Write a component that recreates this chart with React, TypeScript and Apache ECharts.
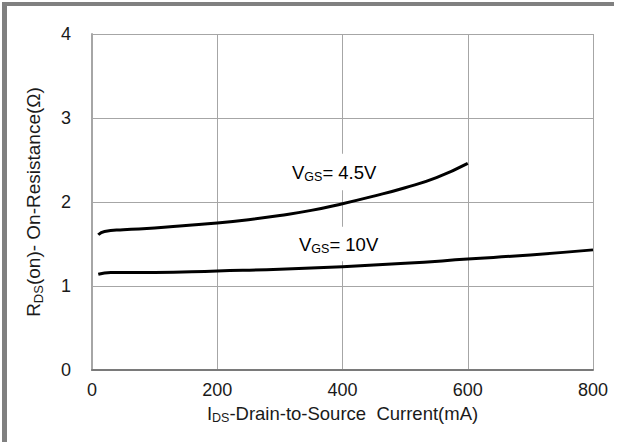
import React, { useEffect, useRef } from "react";
import * as echarts from "echarts";

const xTicks = [0, 200, 400, 600, 800];
const yTicks = [0, 1, 2, 3, 4];

const vgs45: [number, number][] = [
  [10, 1.61], [20, 1.65], [50, 1.67], [100, 1.69], [150, 1.72], [200, 1.75],
  [250, 1.79], [300, 1.84], [350, 1.90], [400, 1.98], [450, 2.07], [500, 2.17],
  [550, 2.29], [600, 2.46],
];
const vgs10: [number, number][] = [
  [10, 1.14], [30, 1.16], [100, 1.16], [200, 1.18], [300, 1.2], [400, 1.23],
  [500, 1.27], [600, 1.32], [700, 1.37], [800, 1.43],
];

const FONT = "'Liberation Sans', Arial, sans-serif";
const TXT = "#1a1a1a";

export default function App() {
  const ref = useRef<HTMLDivElement>(null);
  useEffect(() => {
    document.body.style.margin = "0";
    const chart = echarts.init(ref.current!, null, { renderer: "svg" });
    const sub = (n: number) => ({
      fontSize: n,
      fontFamily: FONT,
      color: TXT,
      verticalAlign: "bottom" as const,
      lineHeight: n,
    });
    const main = (n: number) => ({
      fontSize: n,
      fontFamily: FONT,
      color: TXT,
      lineHeight: n + 4,
    });
    chart.setOption({
      animation: false,
      backgroundColor: "#ffffff",
      grid: { left: 92, right: 28, top: 34, bottom: 72, containLabel: false },
      xAxis: {
        type: "value",
        min: xTicks[0],
        max: xTicks[xTicks.length - 1],
        interval: 200,
        name: "{m|I}{s|DS}{m|-Drain-to-Source  Current(mA)}",
        nameLocation: "middle",
        nameGap: 29,
        nameTextStyle: { rich: { m: main(18.5), s: sub(12.5) } },
        axisLine: { show: true, lineStyle: { color: "#7a7a7a", width: 2 } },
        axisTick: { show: false },
        axisLabel: { fontSize: 18, fontFamily: FONT, color: TXT, margin: 11 },
        splitLine: { show: true, lineStyle: { color: "#a6a6a6", width: 1 } },
      },
      yAxis: {
        type: "value",
        min: yTicks[0],
        max: yTicks[yTicks.length - 1],
        interval: 1,
        name: "{m|R}{s|DS}{m|(on)- On-Resistance(Ω)}",
        nameLocation: "middle",
        nameGap: 47,
        nameTextStyle: { rich: { m: main(19), s: sub(13) } },
        axisLine: { show: true, lineStyle: { color: "#a6a6a6", width: 2 } },
        axisTick: { show: false },
        axisLabel: { fontSize: 18, fontFamily: FONT, color: TXT, margin: 21 },
        splitLine: { show: true, lineStyle: { color: "#a6a6a6", width: 1 } },
      },
      series: [
        {
          name: "VGS=4.5V",
          type: "line",
          data: vgs45,
          smooth: 0.5,
          showSymbol: false,
          lineStyle: { color: "#000", width: 3 },
        },
        {
          name: "VGS=10V",
          type: "line",
          data: vgs10,
          smooth: 0.5,
          showSymbol: false,
          lineStyle: { color: "#000", width: 3 },
        },
      ],
      graphic: [
        { type: "rect", shape: { x: 2, y: 2, width: 612, height: 4 }, style: { fill: "#808080" }, z: 100 },
        { type: "rect", shape: { x: 2, y: 2, width: 5, height: 440 }, style: { fill: "#808080" }, z: 100 },
        {
          type: "text",
          x: 290,
          y: 172,
          z: 100,
          style: {
            text: "{m|V}{s|GS}{m|= 4.5V}",
            verticalAlign: "middle",
            backgroundColor: "#fff",
            padding: [7, 2, 7, 2],
            rich: { m: main(18.5), s: sub(12.5) },
          },
        },
        {
          type: "text",
          x: 297,
          y: 244,
          z: 100,
          style: {
            text: "{m|V}{s|GS}{m|= 10V}",
            verticalAlign: "middle",
            backgroundColor: "#fff",
            padding: [6, 2, 6, 2],
            rich: { m: main(18.5), s: sub(12.5) },
          },
        },
      ],
    });
    return () => chart.dispose();
  }, []);
  return <div ref={ref} style={{ width: 621, height: 442 }} />;
}
